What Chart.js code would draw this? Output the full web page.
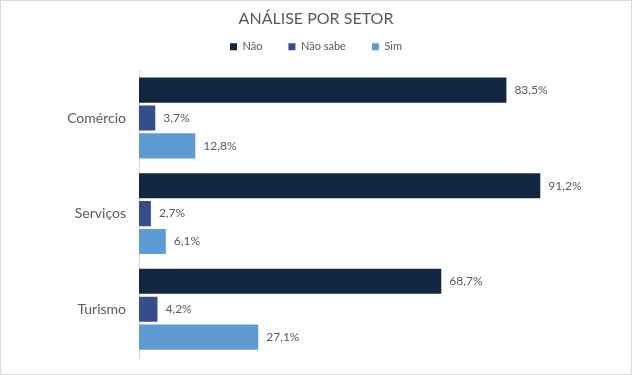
<!DOCTYPE html>
<html>
<head>
<meta charset="utf-8">
<script src="https://cdn.jsdelivr.net/npm/chart.js@4/dist/chart.umd.min.js"></script>
<style>
  html,body{margin:0;padding:0;background:#fff;}
  .frame{width:632px;height:375px;box-sizing:border-box;border:1px solid #d9d9d9;}
  .frame canvas{display:block;}
</style>
</head>
<body>
<div class="frame"><canvas id="chart" width="630" height="373"></canvas></div>
<script>
const sectors = ["Comércio", "Serviços", "Turismo"];
const nao = [83.5, 91.2, 68.7];
const naoSabe = [3.7, 2.7, 4.2];
const sim = [12.8, 6.1, 27.1];

const grey = "#595959";

// value labels at the bar ends, "83,5%"
const barLabels = {
  id: "barLabels",
  afterDatasetsDraw(chart){
    const c = chart.ctx;
    c.save();
    c.font = "12px Lato";
    c.fillStyle = grey;
    c.textBaseline = "middle";
    chart.data.datasets.forEach((ds, i) => {
      chart.getDatasetMeta(i).data.forEach((bar, j) => {
        c.fillText(ds.data[j].toFixed(1).replace(".", ",") + "%", bar.x + 8, bar.y);
      });
    });
    c.restore();
  }
};

new Chart(document.getElementById("chart"), {
  type: "bar",
  data: {
    labels: sectors,
    datasets: [
      { label: "Não", data: nao, backgroundColor: "#12263f" },
      { label: "Não sabe", data: naoSabe, backgroundColor: "#354d8a" },
      { label: "Sim", data: sim, backgroundColor: "#5e9bd3" }
    ]
  },
  options: {
    indexAxis: "y",
    responsive: false,
    animation: false,
    categoryPercentage: 0.875,
    barPercentage: 0.9,
    layout: { padding: { left: 0, right: 0, top: 8, bottom: 17 } },
    plugins: {
      title: {
        display: true,
        text: "ANÁLISE POR SETOR",
        color: grey,
        font: { family: "Lato", size: 16, weight: "normal" },
        padding: { top: 0, bottom: -13 }
      },
      legend: {
        labels: {
          color: grey,
          boxWidth: 7,
          boxHeight: 7,
          padding: 26,
          font: { family: "Lato", size: 11 }
        }
      },
      tooltip: { enabled: false }
    },
    scales: {
      // hidden value axis on top, also used as a small gap under the legend
      x: {
        position: "top", min: 0, max: 100,
        grid: { display: false }, border: { display: false },
        ticks: { display: false },
        afterFit(scale){ scale.height = 8; }
      },
      y: {
        grid: { display: false },
        border: { display: true, color: "#d9d9d9" },
        ticks: { color: grey, padding: 5, font: { family: "Lato", size: 14 } },
        afterFit(scale){ scale.width = 138; }
      },
      // empty right margin so title/legend stay centred on the whole canvas
      yr: {
        position: "right",
        grid: { display: false }, border: { display: false },
        ticks: { display: false },
        afterFit(scale){ scale.width = 52; }
      }
    }
  },
  plugins: [barLabels]
});
</script>
</body>
</html>
